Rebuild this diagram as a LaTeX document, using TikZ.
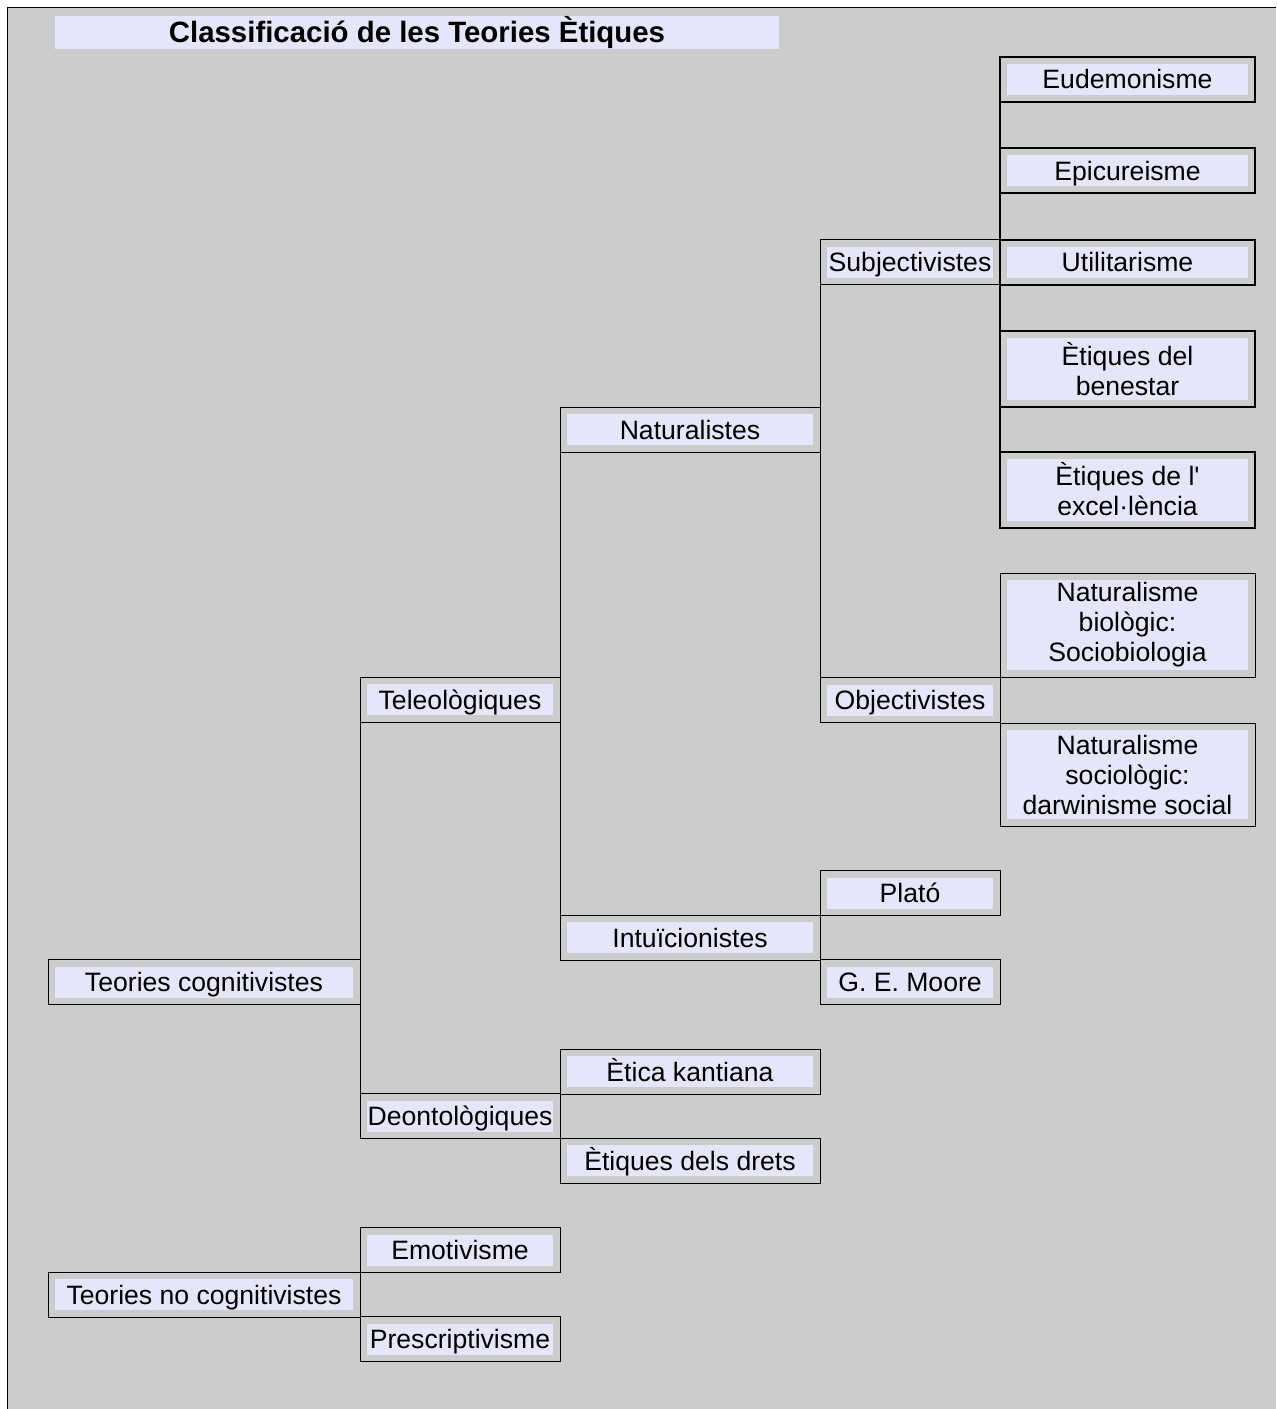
\documentclass[tikz,border=0pt]{standalone}
\usepackage{fontspec}
\setmainfont{Liberation Sans}[Ligatures=TeXOff]
\definecolor{bggray}{HTML}{CCCCCC}
\definecolor{lav}{HTML}{E6E6FA}

\begin{document}
\begin{tikzpicture}[x=0.5pt, y=-0.5pt, line width=0.5pt,
    cell/.style={draw, outer sep=0pt, inner sep=0pt, align=center, minimum height=22.5pt,
        text height=9.6pt, text depth=0pt, font=\fontsize{13.3}{15}\selectfont,
        path picture={\fill[lav] ([shift={(3.5pt,-3.5pt)}]path picture bounding box.north west)
            rectangle ([shift={(-3.5pt,3.5pt)}]path picture bounding box.south east);}},
    multi/.style={text height={}, text depth={}, minimum height=#1},
    boldcell/.style={line width=1pt},
    lvl0/.style={cell, minimum width=156pt},
    lvl1/.style={cell, minimum width=100pt},
    lvl2/.style={cell, minimum width=130pt},
    lvl3/.style={cell, minimum width=90pt},
    lvl4/.style={cell, minimum width=127.5pt}]
        \useasboundingbox (0,0) rectangle (1276,1409);
        \fill[bggray] (8,8) rectangle (1276,1409);
        \draw[line width=0.7pt] (1276,7.5) -- (7.5,7.5) -- (7.5,1409);

        % Title
        \node[fill=lav, inner sep=0pt, minimum width=362pt, minimum height=16.5pt,
            font=\fontsize{14.7}{17}\selectfont\bfseries] (title) at (417,32.5)
            {Classificació de les Teories Ètiques};

        % Level 0
        \node[lvl0] (cogn) at (204,982) {Teories cognitivistes};
        \node[lvl0] (nocogn) at (204,1294.5) {Teories no cognitivistes};

        % Level 1
        \node[lvl1] (teleo) at (460,699.5) {Teleològiques};
        \node[lvl1] (deonto) at (460,1116) {Deontològiques};
        \node[lvl1] (emoti) at (460,1250) {Emotivisme};
        \node[lvl1] (prescr) at (460,1339) {Prescriptivisme};

        % Level 2
        \node[lvl2] (natur) at (690,429.5) {Naturalistes};
        \node[lvl2] (intu) at (690,937.5) {Intuïcionistes};
        \node[lvl2] (kant) at (690,1071.5) {Ètica kantiana};
        \node[lvl2] (drets) at (690,1160.5) {Ètiques dels drets};

        % Level 3
        \node[lvl3] (subj) at (910,262) {Subjectivistes};
        \node[lvl3] (obj) at (910,700) {Objectivistes};
        \node[lvl3] (plato) at (910,893) {Plató};
        \node[lvl3] (moore) at (910,982) {G. E. Moore};

        % Level 4
        \node[lvl4, boldcell] (eudem) at (1127.5,79) {Eudemonisme};
        \node[lvl4, boldcell] (epic) at (1127.5,170.5) {Epicureisme};
        \node[lvl4, boldcell] (util) at (1127.5,262) {Utilitarisme};
        \node[lvl4, boldcell, multi=38pt] (benes) at (1127.5,369) {Ètiques del\\benestar};
        \node[lvl4, boldcell, multi=38pt] (excel) at (1127.5,489.5) {Ètiques de l'\\excel·lència};
        \node[lvl4, multi=52pt] (biol) at (1127.5,625) {Naturalisme\\biològic:\\Sociobiologia};
        \node[lvl4, multi=51.5pt] (sociol) at (1127.5,774.5) {Naturalisme\\sociològic:\\darwinisme social};

        % Brackets joining the children of each node
        \draw[line width=1pt] (eudem.south west) -- (excel.north west);
        \foreach \a/\b in {biol/sociol, subj/obj, plato/moore, natur/intu, kant/drets, teleo/deonto, emoti/prescr} {
            \draw (\a.south west) -- (\b.north west);
        }
    \end{tikzpicture}
\end{document}
